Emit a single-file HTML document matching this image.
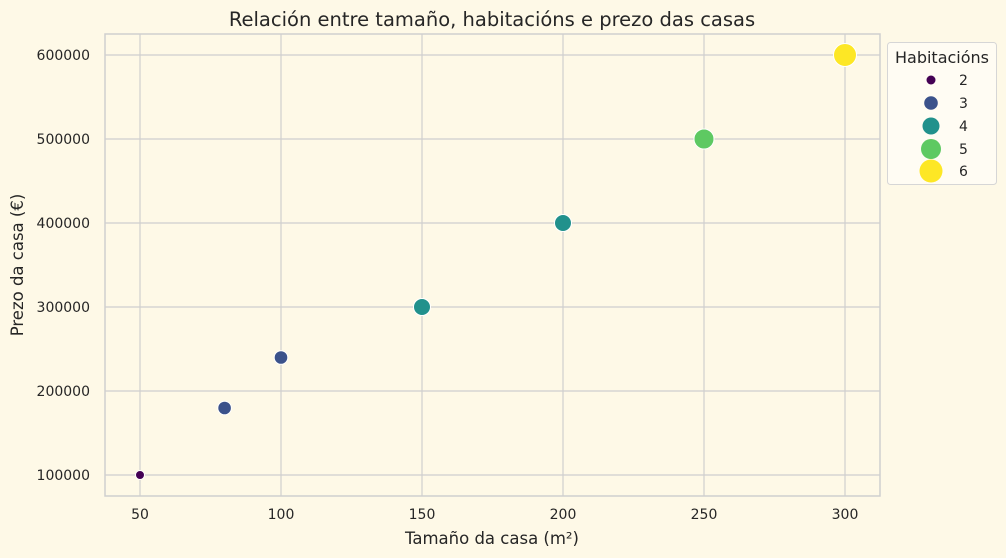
<!DOCTYPE html>
<html><head><meta charset="utf-8"><style>
body{margin:0;background:#fef9e7;}
svg{display:block;font-family:"DejaVu Sans","Liberation Sans",sans-serif;}
</style></head><body>
<svg width="1006" height="558" xmlns="http://www.w3.org/2000/svg">
<rect width="1006" height="558" fill="#fef9e7"/>
<g stroke="#cfcfcf" stroke-width="1.2">
<line x1="140" y1="34" x2="140" y2="496"/><line x1="281" y1="34" x2="281" y2="496"/><line x1="422" y1="34" x2="422" y2="496"/><line x1="563" y1="34" x2="563" y2="496"/><line x1="704" y1="34" x2="704" y2="496"/><line x1="845" y1="34" x2="845" y2="496"/>
<line x1="105" y1="475" x2="880" y2="475"/><line x1="105" y1="391" x2="880" y2="391"/><line x1="105" y1="307" x2="880" y2="307"/><line x1="105" y1="223" x2="880" y2="223"/><line x1="105" y1="139" x2="880" y2="139"/><line x1="105" y1="55" x2="880" y2="55"/>
</g>
<rect x="105" y="34" width="775" height="462" fill="none" stroke="#cfcfcf" stroke-width="1.5"/>
<g font-size="14" fill="#262626" text-anchor="end">
<text x="90" y="480">100000</text><text x="90" y="396">200000</text><text x="90" y="312">300000</text><text x="90" y="228">400000</text><text x="90" y="144">500000</text><text x="90" y="60">600000</text>
</g>
<g font-size="14" fill="#262626" text-anchor="middle">
<text x="140" y="519">50</text><text x="281" y="519">100</text><text x="422" y="519">150</text><text x="563" y="519">200</text><text x="704" y="519">250</text><text x="845" y="519">300</text>
<text x="492" y="544" font-size="16.5">Tamaño da casa (m²)</text>
<text x="492" y="26" font-size="19.5">Relación entre tamaño, habitacións e prezo das casas</text>
</g>
<text transform="translate(23,265) rotate(-90)" font-size="16.5" fill="#262626" text-anchor="middle">Prezo da casa (€)</text>
<g stroke="#fff" stroke-width="1">
<circle cx="140" cy="475" r="4.5" fill="#440154"/>
<circle cx="224.6" cy="408" r="6.8" fill="#3b528b"/>
<circle cx="281" cy="357.5" r="6.8" fill="#3b528b"/>
<circle cx="422" cy="307" r="8.5" fill="#21918c"/>
<circle cx="563" cy="223" r="8.5" fill="#21918c"/>
<circle cx="704" cy="139" r="10" fill="#5ec962"/>
<circle cx="845" cy="55" r="11.5" fill="#fde725"/>
</g>
<rect x="887.5" y="42.5" width="109" height="142" rx="3" fill="#fffcf3" stroke="#d6d6d6"/>
<text x="942" y="63" font-size="16" fill="#262626" text-anchor="middle">Habitacións</text>
<g font-size="14" fill="#262626">
<circle cx="931" cy="80" r="4.5" fill="#440154"/><text x="959" y="85">2</text>
<circle cx="931" cy="103" r="6.8" fill="#3b528b"/><text x="959" y="108">3</text>
<circle cx="931" cy="126" r="8.5" fill="#21918c"/><text x="959" y="131">4</text>
<circle cx="931" cy="149" r="10" fill="#5ec962"/><text x="959" y="154">5</text>
<circle cx="931" cy="171" r="11.5" fill="#fde725"/><text x="959" y="176">6</text>
</g>
</svg>
</body></html>
